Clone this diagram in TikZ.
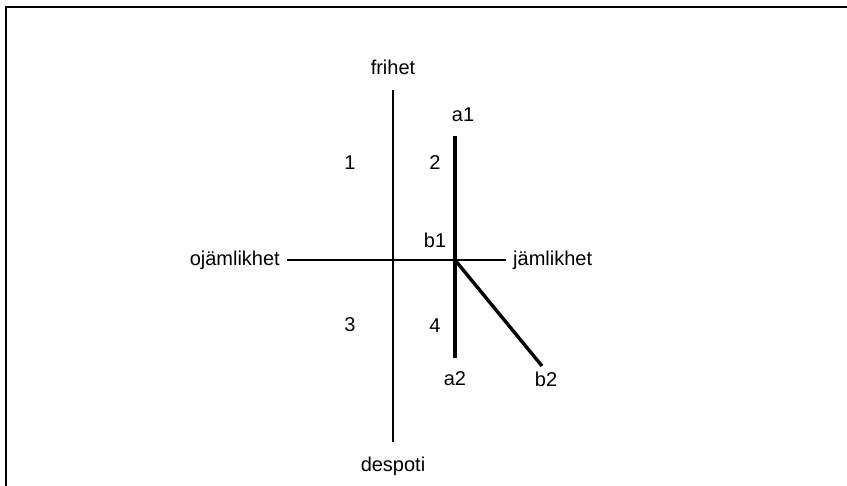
\documentclass[tikz,border=0pt]{standalone}
\usepackage{fontspec}
\setmainfont{Liberation Sans}
\usepackage{tikz}

\begin{document}
\begin{tikzpicture}[x=1pt, y=-1pt, every node/.style={font=\fontsize{20}{23}\selectfont, inner sep=1pt}]
                \useasboundingbox (0,0) rectangle (847,486);
                % frame
                \draw[line width=2pt] (6,486) -- (6,7) -- (847,7);
                \coordinate (N) at (393,90);
                \coordinate (S) at (393,442);
                \coordinate (W) at (287,260);
                \coordinate (E) at (506,260);
                \coordinate (A1) at (455,136);
                \coordinate (B1) at (455,260);
                \coordinate (A2) at (455,358);
                \coordinate (B2) at (542,366);
                \node (frihet) at (393,67) {frihet};
                \node (despoti) at (393,466) {despoti};
                \node[left] (ojam) at (281,260) {ojämlikhet};
                \node[right] (jam) at (512,260) {jämlikhet};
                \draw[line width=1.6pt] (N) -- (S);
                \draw[line width=1.6pt] (W) -- (E);
                \draw[line width=3.4pt] (A1) -- (B1) -- (A2);
                \draw[line width=3.4pt] (B1) -- (B2);
                \node (a1) at (463,115) {a1};
                \node (a2) at (455,379) {a2};
                \node (b1) at (435,240) {b1};
                \node (b2) at (546,379) {b2};
                \node (q1) at (350,163) {1};
                \node (q2) at (435,163) {2};
                \node (q3) at (350,325) {3};
                \node (q4) at (435,326) {4};
            \end{tikzpicture}
\end{document}
